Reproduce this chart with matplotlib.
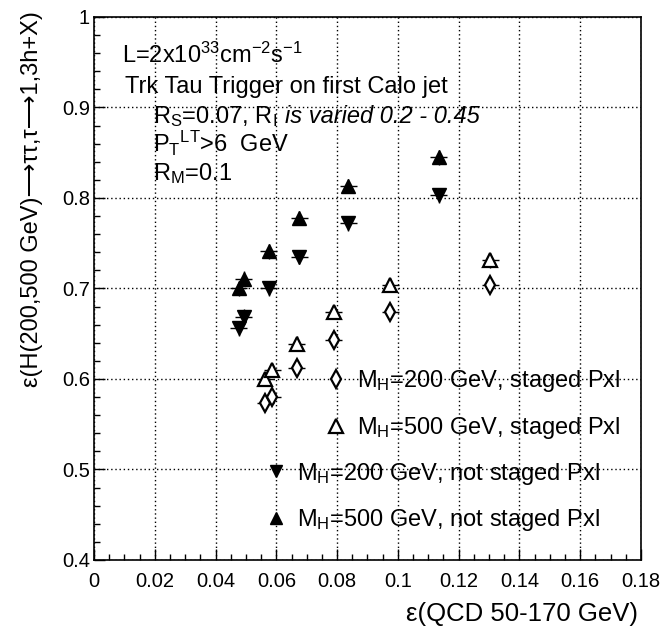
import matplotlib
matplotlib.use("Agg")
import matplotlib.pyplot as plt
from matplotlib.ticker import MultipleLocator, FuncFormatter
from matplotlib.lines import Line2D

plt.rcParams['font.family'] = ['Liberation Sans', 'DejaVu Sans']
plt.rcParams['mathtext.default'] = 'regular'

# QCD efficiency (x) and signal efficiency (y) for each configuration
qcd_staged = [0.0564, 0.0586, 0.0668, 0.0789, 0.0975, 0.1304]
eff_200_staged = [0.573, 0.580, 0.612, 0.643, 0.674, 0.704]
eff_500_staged = [0.600, 0.610, 0.639, 0.674, 0.704, 0.731]

qcd_notstaged = [0.0476, 0.0492, 0.0575, 0.0676, 0.0836, 0.1134]
eff_200_notstaged = [0.656, 0.669, 0.700, 0.735, 0.772, 0.803]
eff_500_notstaged = [0.700, 0.711, 0.741, 0.778, 0.813, 0.845]

x_err = 0.0028
y_err = 0.008

fig = plt.figure(figsize=(6.66, 6.29), dpi=100)
ax = fig.add_axes([0.1411, 0.1097, 0.8214, 0.8633])

eb = dict(ls='none', ecolor='black', elinewidth=1.0, capsize=0, mec='black')
ax.errorbar(qcd_staged, eff_200_staged, xerr=x_err, yerr=y_err, marker='d',
            ms=9, mfc='white', mew=1.6, **eb)
ax.errorbar(qcd_staged, eff_500_staged, xerr=x_err, yerr=y_err, marker='^',
            ms=10, mfc='white', mew=1.6, **eb)
ax.errorbar(qcd_notstaged, eff_200_notstaged, xerr=x_err, yerr=y_err, marker='v',
            ms=10, mfc='black', **eb)
ax.errorbar(qcd_notstaged, eff_500_notstaged, xerr=x_err, yerr=y_err, marker='^',
            ms=10, mfc='black', **eb)

ax.set_xlim(0, 0.18)
ax.set_ylim(0.4, 1.0)
ax.xaxis.set_major_locator(MultipleLocator(0.02))
ax.xaxis.set_minor_locator(MultipleLocator(0.005))
ax.yaxis.set_major_locator(MultipleLocator(0.1))
ax.yaxis.set_minor_locator(MultipleLocator(0.02))
fmt = FuncFormatter(lambda v, p: '%g' % round(v, 4))
ax.xaxis.set_major_formatter(fmt)
ax.yaxis.set_major_formatter(fmt)
ax.tick_params(which='both', direction='in', top=False, right=False,
               labelsize=14.5, width=1.0)
ax.tick_params(which='major', length=8)
ax.tick_params(which='minor', length=4)
ax.tick_params(axis='x', which='major', pad=9)
ax.tick_params(axis='y', which='major', pad=3)
ax.grid(True, which='major', color='black', ls=(0, (1, 2)), lw=1.0)
for s in ax.spines.values():
    s.set_linewidth(1.2)

ax.set_xlabel('ε(QCD 50-170 GeV)', fontsize=18.5, loc='right')
ax.xaxis.set_label_coords(0.9945, -0.078)
ax.set_ylabel('ε(H(200,500 GeV)⟶ττ,τ⟶1,3h+X)', fontsize=17, loc='top')
ax.yaxis.set_label_coords(-0.094, 1.01)

# annotation block
ax.text(0.0506, 0.9147, 'L=2x10$^{33}$cm$^{-2}$s$^{-1}$', transform=ax.transAxes, fontsize=17)
ax.text(0.0567, 0.8595, 'Trk Tau Trigger on first Calo jet', transform=ax.transAxes, fontsize=17)
rs = ax.text(0.108, 0.804, 'R$_S$=0.07, R$_I$', transform=ax.transAxes, fontsize=17)
ax.text(0.108, 0.752, 'P$_T$$^{LT}$>6  GeV', transform=ax.transAxes, fontsize=17)
ax.text(0.108, 0.700, 'R$_M$=0.1', transform=ax.transAxes, fontsize=17)

# italic tail of the R_S line, placed right after the upright part
fig.canvas.draw()
rs_end = ax.transAxes.inverted().transform((rs.get_window_extent().x1 + 8, 0))[0]
ax.text(rs_end, 0.804, 'is varied 0.2 - 0.45', transform=ax.transAxes,
        fontsize=17, style='italic')

# legends
h1 = [Line2D([], [], ls='none', marker='d', ms=9, mfc='white', mec='black', mew=1.6),
      Line2D([], [], ls='none', marker='^', ms=10, mfc='white', mec='black', mew=1.6)]
leg1 = ax.legend(h1, ['M$_H$=200 GeV, staged Pxl', 'M$_H$=500 GeV, staged Pxl'],
                 loc='center left', bbox_to_anchor=(0.4208, 0.2864), frameon=False,
                 fontsize=17, handlelength=1.0, handletextpad=0.39, borderpad=0,
                 borderaxespad=0, labelspacing=0.88)
ax.add_artist(leg1)
h2 = [Line2D([], [], ls='none', marker='v', ms=8, mfc='black', mec='black'),
      Line2D([], [], ls='none', marker='^', ms=8, mfc='black', mec='black')]
ax.legend(h2, ['M$_H$=200 GeV, not staged Pxl', 'M$_H$=500 GeV, not staged Pxl'],
          loc='center left', bbox_to_anchor=(0.3111, 0.116), frameon=False,
          fontsize=17, handlelength=1.0, handletextpad=0.39, borderpad=0,
          borderaxespad=0, labelspacing=0.88)

fig.savefig('out.png', dpi=100)
